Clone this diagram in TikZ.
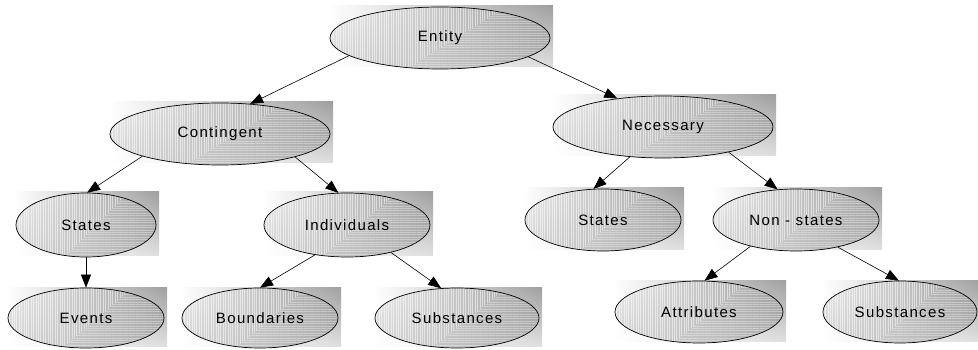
\documentclass[tikz,border=0pt]{standalone}
\usepackage{fontspec}
\setmainfont{Liberation Sans}
\newfontfamily\orbfont[LetterSpace=9]{Liberation Sans}
\usetikzlibrary{shapes.geometric,arrows.meta,patterns.meta,calc,shadings}

\tikzset{
  orb/.style={
    ellipse, draw=black, line width=0.7pt, inner sep=0pt,
    upper left=gray!15, lower left=gray!35,
    upper right=gray!75, lower right=gray!62,
    font=\orbfont\fontsize{15}{17}\selectfont, text=black,
    path picture={
      \coordinate (pa) at ($(path picture bounding box.south west)!0.35!(path picture bounding box.south east)$);
      \coordinate (pb) at ($(path picture bounding box.north west)!0.8!(path picture bounding box.north east)$);
      \fill[opacity=0.5, pattern={Lines[angle=90,distance=2.4pt,line width=0.7pt]}, pattern color=white]
        (path picture bounding box.south west) -- (pa) -- (pb) -- (path picture bounding box.north west) -- cycle;
      \fill[opacity=0.35, pattern={Lines[angle=0,distance=2.4pt,line width=0.7pt]}, pattern color=white]
        (pa) -- (path picture bounding box.south east) -- (path picture bounding box.north east) -- (pb) -- cycle;
    }
  },
  glow/.style={upper left=white, lower left=white, upper right=gray!75, lower right=gray!25},
  link/.style={-{Triangle[length=13pt,width=10pt]}, line width=0.6pt, draw=black},
}

% shaded backing box plus labelled ellipse: name, x, y, half width, half height, text
\newcommand\orbnode[6]{%
  \shade[glow] (#2-#4-2,#3-#5-1) rectangle (#2+#4+3,#3+#5-2);
  \node[orb, minimum width={2*#4pt}, minimum height={2*#5pt}] (#1) at (#2,#3) {#6};
}

\begin{document}
\begin{tikzpicture}[x=1pt,y=-1pt]
  \useasboundingbox (0,0) rectangle (978,350);

  \orbnode{entity}{440}{38}{110}{31}{Entity}
  \orbnode{contingent}{220}{134}{110}{31}{Contingent}
  \orbnode{necessary}{663}{127}{110}{31}{Necessary}
  \orbnode{statesA}{86}{225}{70}{32}{States}
  \orbnode{individuals}{347}{225}{83}{32}{Individuals}
  \orbnode{events}{86}{318}{78}{30}{Events}
  \orbnode{boundaries}{260}{318}{78}{30}{Boundaries}
  \orbnode{substancesA}{457}{318}{82}{30}{Substances}
  \orbnode{statesB}{603}{220}{78}{31}{States}
  \orbnode{nonstates}{796}{220}{83}{31}{Non - states}
  \orbnode{attributes}{699}{312}{84}{31}{Attributes}
  \orbnode{substancesB}{900}{312}{77}{31}{Substances}

  \draw[link] (entity.191) -- (contingent.45);
  \draw[link] (entity.348) -- (necessary.148);
  \draw[link] (contingent.196) -- (statesA.88);
  \draw[link] (contingent.343) -- (individuals.105);
  \draw[link] (statesA) -- (events);
  \draw[link] (individuals.223) -- (boundaries.90);
  \draw[link] (individuals.328) -- (substancesA.118);
  \draw[link] (necessary.222) -- (statesB.107);
  \draw[link] (necessary.339) -- (nonstates.121);
  \draw[link] (nonstates.210) -- (attributes.80);
  \draw[link] (nonstates.327) -- (substancesB.92);
\end{tikzpicture}
\end{document}
